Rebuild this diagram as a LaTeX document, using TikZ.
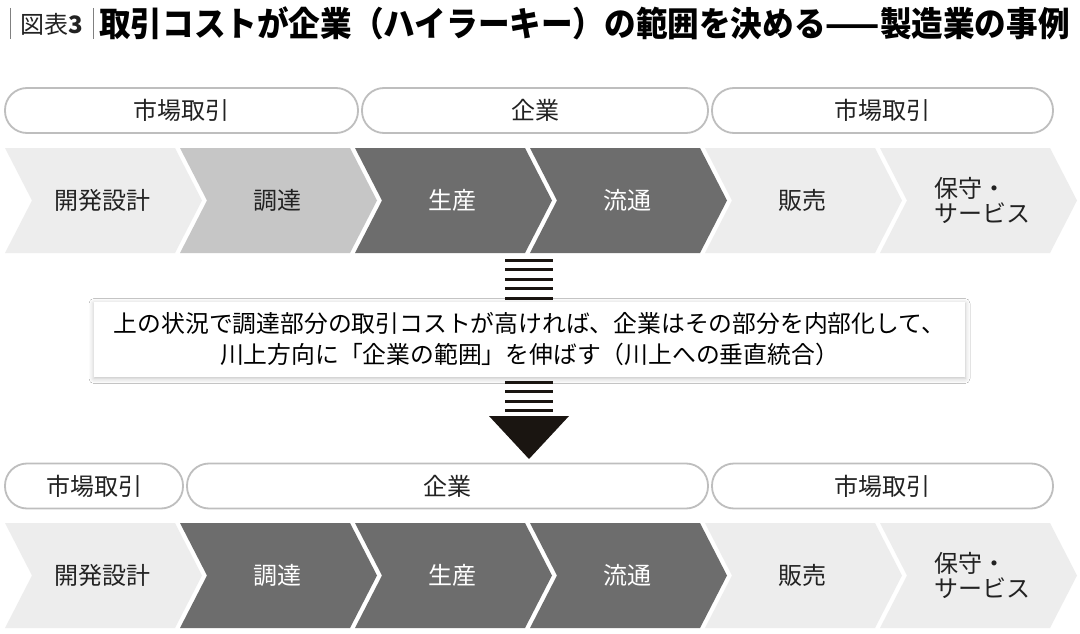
\documentclass[tikz,border=0pt]{standalone}
\usepackage{fontspec}
\newfontfamily\jp{Noto Sans CJK JP}
\newfontfamily\jptitle[FakeStretch=0.93]{Noto Sans CJK JP}
\usetikzlibrary{shadows.blur}
\definecolor{lightc}{HTML}{EDEDED}
\definecolor{midc}{HTML}{C6C6C6}
\definecolor{darkc}{HTML}{6D6D6D}
\definecolor{pillgray}{HTML}{BEBEBE}
\definecolor{txt}{HTML}{222222}
\definecolor{arrowc}{HTML}{1A1511}
\newcommand\mychev[3]{\fill[#3] (#1,#2) -- ++(170,0) -- ++(27,52.5) -- ++(-27,52.5) -- ++(-170,0) -- ++(27,-52.5) -- cycle;}
\begin{document}
\begin{tikzpicture}[x=1pt,y=-1pt,
  pill/.style={draw=pillgray, line width=1.8pt, fill=white, rounded corners=22pt, minimum height=45pt, inner sep=0pt, font=\jp\fontsize{24}{28}\selectfont, text=txt},
  ctxt/.style={font=\jp\fontsize{24}{28}\selectfont, text=txt, align=left, inner sep=0pt},
  wtxt/.style={ctxt, text=white},
  bar/.style={draw=arrowc, line width=3pt}]
\useasboundingbox (0,0) rectangle (1080,634);
\fill[white] (0,0) rectangle (1080,634);
% title
\draw[gray, line width=1pt] (10,8) -- (10,39);
\draw[gray, line width=1pt] (93,8) -- (93,39);
\node[font=\jp\fontsize{24}{28}\selectfont, text=txt, inner sep=0pt] (fig) at (52,24) {図表\textbf{3}};
\node[anchor=west, font=\jptitle\bfseries\fontsize{34}{38}\selectfont, text=black, inner sep=0pt] (title) at (99,23) {取引コストが企業（ハイラーキー）の範囲を決める——製造業の事例};
% row 1 pills
\node[pill, minimum width=353pt] (p11) at (181.5,110.5) {市場取引};
\node[pill, minimum width=346pt] (p12) at (535,110.5) {企業};
\node[pill, minimum width=341pt] (p13) at (882.5,110.5) {市場取引};
% row 1 chevrons
\mychev{5}{148}{lightc}
\mychev{180}{148}{midc}
\mychev{355}{148}{darkc}
\mychev{530}{148}{darkc}
\mychev{705}{148}{lightc}
\mychev{880}{148}{lightc}
\node[ctxt] (a1) at (102,200.5) {開発設計};
\node[ctxt] (a2) at (277,200.5) {調達};
\node[wtxt] (a3) at (452,200.5) {生産};
\node[wtxt] (a4) at (627,200.5) {流通};
\node[ctxt] (a5) at (802,200.5) {販売};
\node[ctxt, font=\jp\fontsize{24}{25}\selectfont] (a6) at (982,200.5) {保守・\\サービス};
% bars above box
\foreach \yy in {260,269.5,279,288.5,298} \draw[bar] (505,\yy) -- (553,\yy);
% box
\node[fill=white, blur shadow={shadow xshift=0pt, shadow yshift=-1.5pt, shadow blur radius=5pt, shadow opacity=25}, minimum width=871pt, minimum height=75pt, inner sep=0pt, align=center, text=black, font=\jp\fontsize{23.8}{31}\selectfont] (box) at (529.5,339.5) {上の状況で調達部分の取引コストが高ければ、企業はその部分を内部化して、\\川上方向に「企業の範囲」を伸ばす（川上への垂直統合）};
% bars below box and arrow head
\foreach \yy in {382,391.5,401,410.5} \draw[bar] (505,\yy) -- (553,\yy);
\fill[arrowc] (489,416) -- (569,416) -- (529,459) -- cycle;
% row 2 pills
\node[pill, minimum width=178pt] (p21) at (94,486) {市場取引};
\node[pill, minimum width=521pt] (p22) at (447.5,486) {企業};
\node[pill, minimum width=341pt] (p23) at (882.5,486) {市場取引};
% row 2 chevrons
\mychev{5}{523}{lightc}
\mychev{180}{523}{darkc}
\mychev{355}{523}{darkc}
\mychev{530}{523}{darkc}
\mychev{705}{523}{lightc}
\mychev{880}{523}{lightc}
\node[ctxt] (b1) at (102,575.5) {開発設計};
\node[wtxt] (b2) at (277,575.5) {調達};
\node[wtxt] (b3) at (452,575.5) {生産};
\node[wtxt] (b4) at (627,575.5) {流通};
\node[ctxt] (b5) at (802,575.5) {販売};
\node[ctxt, font=\jp\fontsize{24}{25}\selectfont] (b6) at (982,575.5) {保守・\\サービス};
\end{tikzpicture}
\end{document}
